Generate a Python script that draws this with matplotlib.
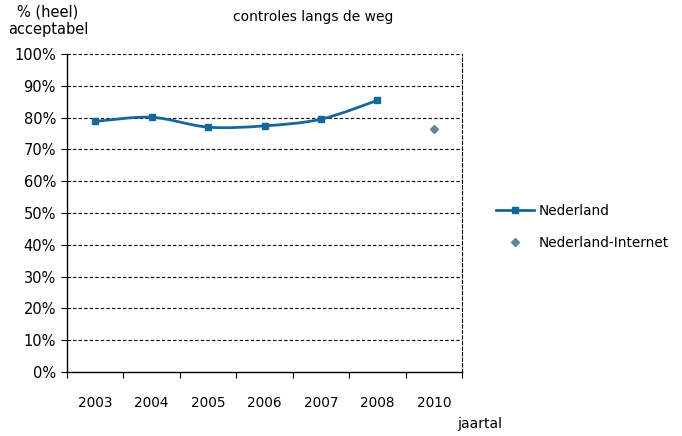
import matplotlib
matplotlib.use("Agg")
import matplotlib.pyplot as plt
import numpy as np
from matplotlib.path import Path
from matplotlib.patches import PathPatch
from matplotlib.lines import Line2D
from matplotlib.ticker import FixedLocator, FuncFormatter

years = ["2003", "2004", "2005", "2006", "2007", "2008", "2010"]
nederland = [78.8, 80.1, 77.0, 77.4, 79.5, 85.4]
internet_year = "2010"
internet_value = [76.3]

line_color = "#15679B"
internet_color = "#5E8799"

plt.rcParams['font.family'] = ['DejaVu Sans']
fig = plt.figure(figsize=(6.82, 4.36), dpi=100)
ax = fig.add_axes([67/682, (436-372)/436, (462-67)/682, (372-54)/436])

x = np.arange(len(nederland), dtype=float)
y = np.array(nederland, dtype=float)

# smooth curve through points using Catmull-Rom -> Bezier control points
verts = [(x[0], y[0])]
codes = [Path.MOVETO]
n = len(x)
for i in range(n - 1):
    p0 = np.array([x[max(i-1, 0)], y[max(i-1, 0)]])
    p1 = np.array([x[i], y[i]])
    p2 = np.array([x[i+1], y[i+1]])
    p3 = np.array([x[min(i+2, n-1)], y[min(i+2, n-1)]])
    t = 0.5 / 3
    c1 = p1 + (p2 - p0) * t
    c2 = p2 - (p3 - p1) * t
    verts += [tuple(c1), tuple(c2), tuple(p2)]
    codes += [Path.CURVE4, Path.CURVE4, Path.CURVE4]
patch = PathPatch(Path(verts, codes), facecolor="none", edgecolor=line_color, lw=2.0, zorder=3)
ax.add_patch(patch)
ax.plot(x, y, linestyle="none", marker="s", markersize=5, color=line_color, zorder=4)
ax.plot([years.index(internet_year)], internet_value, linestyle="none", marker="D",
        markersize=4.5, color=internet_color, zorder=4)

ax.set_xlim(-0.5, len(years) - 0.5)
ax.set_ylim(0, 100)

ax.yaxis.set_major_locator(FixedLocator(np.arange(0, 101, 10)))
ax.yaxis.set_major_formatter(FuncFormatter(lambda v, p: f"{int(round(v))}%"))
ax.set_xticks(np.arange(-0.5, len(years), 1.0))
ax.set_xticklabels([])
ax.set_xticks(np.arange(len(years)), minor=True)
ax.set_xticklabels(years, minor=True)
ax.tick_params(axis='x', which='minor', length=0, pad=17, labelsize=9.8)
ax.tick_params(axis='x', which='major', length=4, direction='out', width=0.8)
ax.tick_params(axis='y', length=4, direction='out', width=0.8, labelsize=10.5, pad=4)

for v in range(10, 101, 10):
    ax.axhline(v, color="black", linestyle=(0, (3, 2)), lw=0.8, zorder=1)
ax.spines['top'].set_visible(False)
ax.spines['right'].set_linestyle((0, (3, 2)))
ax.spines['right'].set_linewidth(0.8)
ax.spines['left'].set_linewidth(1.0)
ax.spines['bottom'].set_linewidth(1.0)

fig.text(313/682, 1 - 17/436, "controles langs de weg", ha="center", va="center", fontsize=10)
fig.text(48/682, 1 - 21/436, "% (heel)\nacceptabel", ha="center", va="center", fontsize=10.5,
         linespacing=1.2)
fig.text(480/682, 1 - 424/436, "jaartal", ha="center", va="center", fontsize=10)

handles = [Line2D([], [], color=line_color, lw=2.0, marker="s", markersize=5),
           Line2D([], [], color=internet_color, linestyle="none", marker="D", markersize=4.5)]
fig.legend(handles, ["Nederland", "Nederland-Internet"], loc="center left",
           bbox_to_anchor=(484/682, 1 - 227/436), frameon=False, fontsize=9.8,
           handlelength=2.8, handletextpad=0.35, labelspacing=1.3)

fig.savefig("out.png", dpi=100)
